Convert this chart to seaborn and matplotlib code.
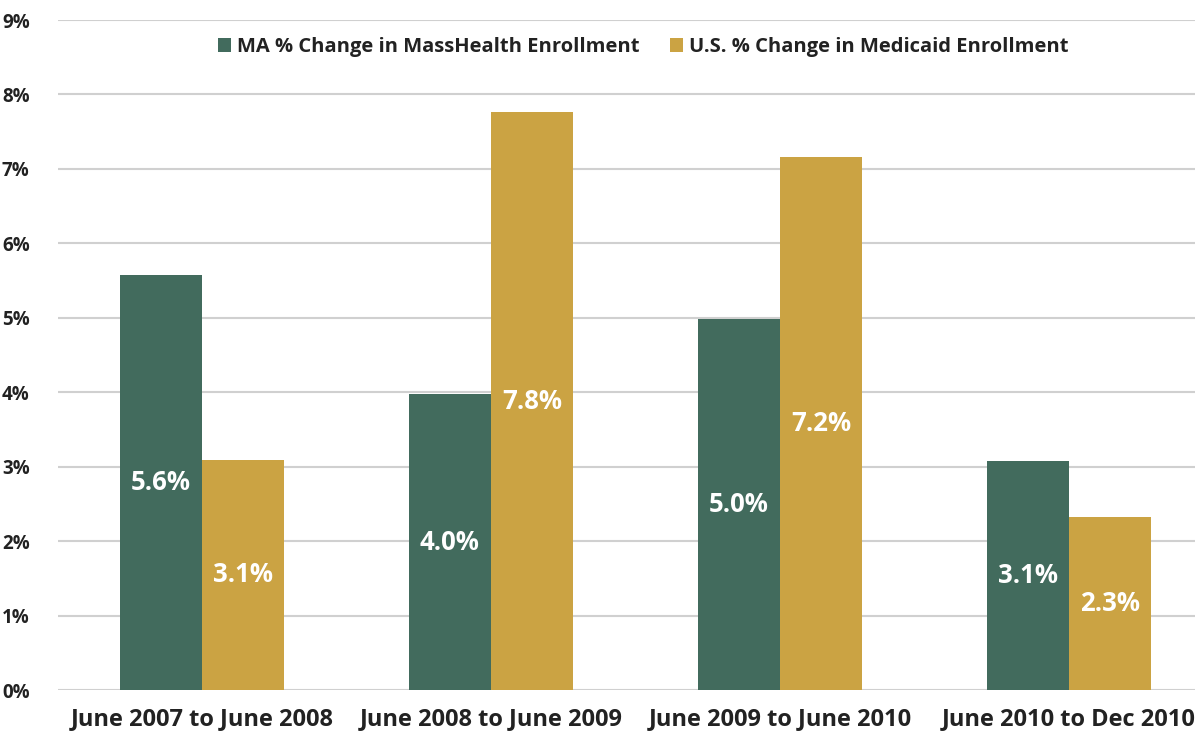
import pandas as pd
import matplotlib.pyplot as plt
import seaborn as sns

periods = ["June 2007 to June 2008", "June 2008 to June 2009",
           "June 2009 to June 2010", "June 2010 to Dec 2010"]
ma_change = [5.57, 3.97, 4.98, 3.08]
us_change = [3.09, 7.76, 7.16, 2.33]
ma_labels = ["5.6%", "4.0%", "5.0%", "3.1%"]
us_labels = ["3.1%", "7.8%", "7.2%", "2.3%"]
series = ["MA % Change in MassHealth Enrollment", "U.S. % Change in Medicaid Enrollment"]
y_ticks = [0, 1, 2, 3, 4, 5, 6, 7, 8, 9]

green = "#426B5D"
gold = "#CBA343"

df = pd.DataFrame({
    "period": periods * 2,
    "series": [series[0]] * 4 + [series[1]] * 4,
    "value": ma_change + us_change,
})

sns.set_style("white")
plt.rcParams['font.family'] = ['Open Sans', 'DejaVu Sans']
plt.rcParams['font.weight'] = 'bold'

fig = plt.figure(figsize=(11.95, 7.34), dpi=100)
ax = fig.add_axes([57.5 / 1195, 44 / 734, 1 - 57.5 / 1195, 670 / 734])

sns.barplot(data=df, x="period", y="value", hue="series",
            palette=[green, gold], width=0.57, saturation=1,
            linewidth=0, ax=ax)

# white value labels centred in each bar
for cont, labs in zip(ax.containers, [ma_labels, us_labels]):
    ax.bar_label(cont, labels=labs, label_type="center", color="white",
                 fontsize=18.5, fontweight="bold")

ax.set_ylim(0, 9)
ax.set_xlim(-0.5, (1195 - 57.5) / 289 - 0.5)
ax.set_yticks(y_ticks)
ax.set_yticklabels([f"{t}%" for t in y_ticks], fontsize=13.5, fontweight="bold", color="#222222")
ax.set_xticks(range(len(periods)))
ax.set_xticklabels(periods, fontsize=17, fontweight="bold", color="#222222")
ax.tick_params(axis="y", length=0, pad=20)
ax.tick_params(axis="x", length=0, pad=12)
ax.set_xlabel("")
ax.set_ylabel("")

ax.grid(axis="y", color="#D0D0D0", linewidth=1.5)
ax.set_axisbelow(True)
for s in ["top", "right", "bottom", "left"]:
    ax.spines[s].set_visible(False)

leg = ax.legend(loc="center", bbox_to_anchor=(643 / 1195, 1 - 47 / 734),
                bbox_transform=fig.transFigure, ncol=2, frameon=False,
                fontsize=14.5, handlelength=0.65, handleheight=0.65,
                handletextpad=0.3, columnspacing=1.5)
for t in leg.get_texts():
    t.set_color("#222222")
    t.set_fontweight("bold")

fig.savefig("out.png", dpi=100)
